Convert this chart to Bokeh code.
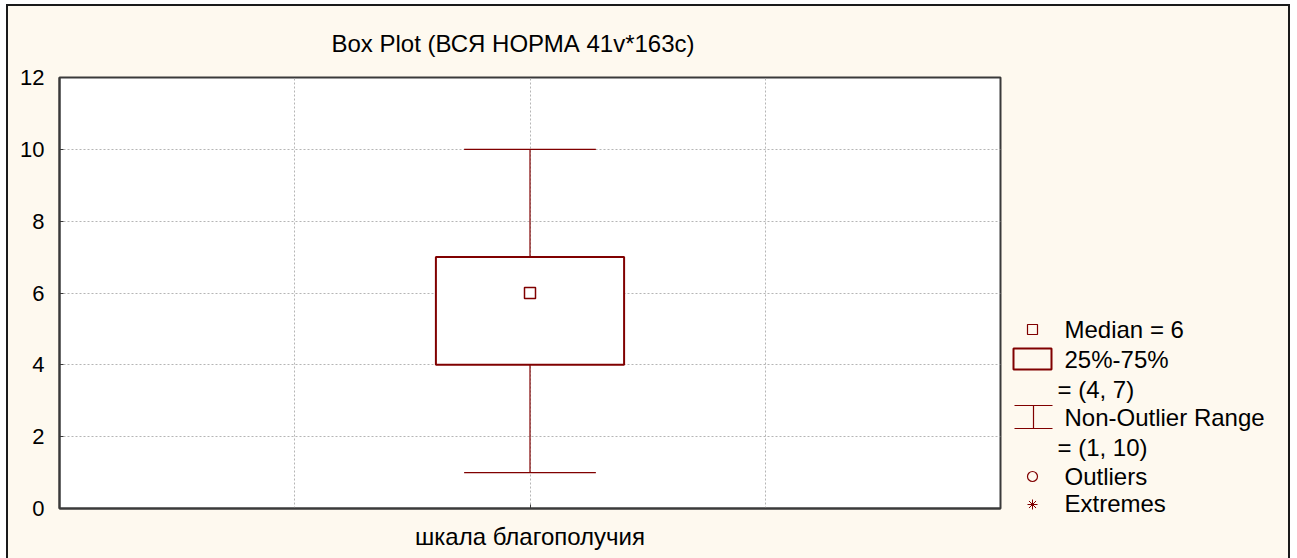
from bokeh.plotting import figure
from bokeh.models import Range1d, FixedTicker, ColumnDataSource, Label
from bokeh.layouts import row
from bokeh.embed import file_html
from bokeh.resources import INLINE

# ---- data ----
variable = ["шкала благополучия"]
median = [6]
q25 = [4]
q75 = [7]
nonout_min = [1]
nonout_max = [10]
title_text = "Box Plot (ВСЯ НОРМА 41v*163c)"
y_ticks = [0, 2, 4, 6, 8, 10, 12]

FONT = "Liberation Sans"
FS = "24px"
FS_TICK = "22px"
RED = "#800000"
CREAM = "#FEF9EF"
FRAME = "#3a3a3a"

pos = [2.0]          # category position on the numeric x scale
box_half = 0.4
cap_half = 0.28

H = 552
WM = 1000
WL = 1280 - WM
FT, FB = 70, 502     # frame top / bottom inside canvas

p = figure(width=WM, height=H, x_range=Range1d(0, 4), y_range=Range1d(0, 12),
           output_backend="svg", toolbar_location=None,
           background_fill_color="white", border_fill_color=CREAM,
           min_border_left=51, min_border_top=FT, min_border_right=8,
           min_border_bottom=H - FB)
p.title.text = title_text
p.title.text_font = FONT
p.title.text_font_size = FS
p.title.text_font_style = "normal"
p.title.align = "left"
p.title.offset = 272
p.title.standoff = 42
p.title.text_color = "black"

p.outline_line_color = FRAME
p.outline_line_width = 2

# axes
xa = p.xaxis[0]
xa.ticker = FixedTicker(ticks=pos)
xa.major_label_overrides = {pos[0]: variable[0]}
ya = p.yaxis[0]
ya.ticker = FixedTicker(ticks=y_ticks)
for ax in (xa, ya):
    ax.axis_line_color = FRAME
    ax.axis_line_width = 2
    ax.major_tick_in = 4
    ax.major_tick_out = 0
    ax.major_tick_line_color = FRAME
    ax.minor_tick_line_color = None
    ax.major_label_text_font = FONT
    ax.major_label_text_color = "black"
xa.major_label_text_font_size = FS
ya.major_label_text_font_size = FS_TICK
xa.major_label_standoff = 14
ya.major_label_standoff = 15

# grids
p.xgrid.ticker = FixedTicker(ticks=[1, 2, 3])
p.ygrid.ticker = FixedTicker(ticks=[2, 4, 6, 8, 10])
for g in (p.xgrid[0], p.ygrid[0]):
    g.grid_line_color = "#b5b5b5"
    g.grid_line_dash = "2 2"
    g.grid_line_width = 1

src = ColumnDataSource(dict(
    x=pos, med=median, q1=q25, q3=q75, lo=nonout_min, hi=nonout_max,
    left=[v - box_half for v in pos], right=[v + box_half for v in pos],
    cl=[v - cap_half for v in pos], cr=[v + cap_half for v in pos],
))

# whiskers
p.segment(x0="x", y0="q3", x1="x", y1="hi", source=src, line_color=RED, line_width=1.2)
p.segment(x0="x", y0="lo", x1="x", y1="q1", source=src, line_color=RED, line_width=1.2)
p.segment(x0="cl", y0="hi", x1="cr", y1="hi", source=src, line_color=RED, line_width=1.2)
p.segment(x0="cl", y0="lo", x1="cr", y1="lo", source=src, line_color=RED, line_width=1.2)
# box
p.quad(left="left", right="right", bottom="q1", top="q3", source=src,
       fill_color="white", line_color=RED, line_width=2)
# median
p.scatter(x="x", y="med", source=src, marker="square", size=11,
          fill_color="white", line_color=RED, line_width=1.5)

# ---- legend panel (coordinates = canvas pixels of this panel) ----
lg = figure(width=WL, height=H, x_range=Range1d(0, WL), y_range=Range1d(H, 0),
            output_backend="svg", toolbar_location=None,
            background_fill_color=CREAM, border_fill_color=CREAM,
            min_border=0, outline_line_color=None)
lg.frame_align = False
lg.axis.visible = False
lg.grid.visible = False

lg.scatter(x=[24], y=[323], marker="square", size=10, fill_color=None,
           line_color=RED, line_width=1.2)
lg.quad(left=[5], right=[43], top=[342], bottom=[363], fill_color=None,
        line_color=RED, line_width=2)
lg.segment(x0=[6, 6, 25], y0=[399, 422, 399], x1=[44, 44, 25], y1=[399, 422, 422],
           line_color=RED, line_width=1.2)
lg.scatter(x=[24], y=[470], marker="circle", size=10, fill_color=None,
           line_color=RED, line_width=1.2)
lg.scatter(x=[24], y=[498], marker="asterisk", size=10, line_color=RED, line_width=1)

leg_texts = [f"Median = {median[0]}", "25%-75%", f"= ({q25[0]}, {q75[0]})",
             "Non-Outlier Range", f"= ({nonout_min[0]}, {nonout_max[0]})",
             "Outliers", "Extremes"]
leg_x = [56, 56, 49, 56, 49, 56, 56]
leg_y = [323, 353, 383, 411, 441, 470, 497]
for t, lx, ly in zip(leg_texts, leg_x, leg_y):
    lg.add_layout(Label(x=lx, y=ly, text=t, text_font=FONT, text_font_size=FS,
                        text_baseline="middle", text_align="left", text_color="black"))

layout = row(p, lg, styles={"border-top": "2px solid #1a1a1a",
                            "border-left": "2px solid #1a1a1a",
                            "border-right": "2px solid #1a1a1a",
                            "margin-left": "6px", "margin-top": "4px",
                            "background-color": CREAM})

open("out.html", "w").write(file_html(layout, INLINE))
